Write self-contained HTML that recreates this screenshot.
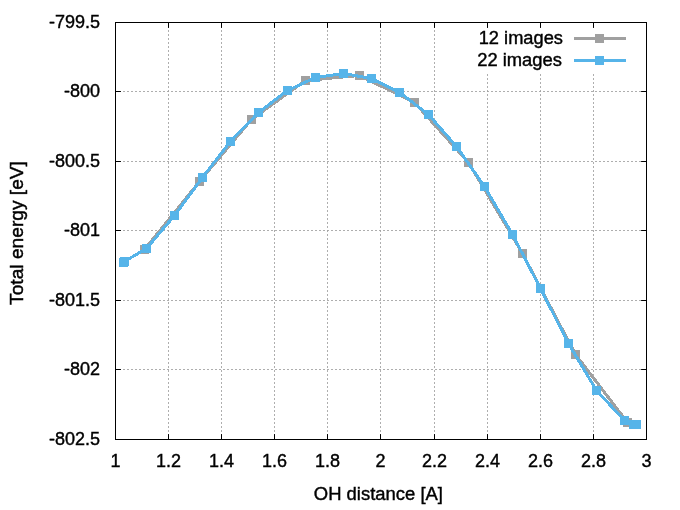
<!DOCTYPE html>
<html><head><meta charset="utf-8"><style>
html,body{margin:0;padding:0;background:#fff;}
svg{display:block;}
text{will-change:transform;}
text{font-family:"Liberation Sans",sans-serif;fill:#000;stroke:#000;stroke-width:0.4px;}
</style></head><body>
<svg width="680" height="510" viewBox="0 0 680 510">
<rect x="0" y="0" width="680" height="510" fill="#fff"/>
<path d="M168.5 440V22 M221.5 440V22 M274.5 440V22 M327.5 440V22 M380.5 440V22 M434.5 440V22 M487.5 440V22 M540.5 440V22 M593.5 440V22 M115 91.5H647 M115 161.5H647 M115 230.5H647 M115 300.5H647 M115 369.5H647" stroke="#a0a0a0" stroke-width="1" stroke-dasharray="2 2" fill="none" opacity="0.85"/>
<rect x="440" y="28" width="205" height="46" fill="#fff"/>
<path d="M168.5 439.5V434.5 M168.5 22.5V27.5 M221.5 439.5V434.5 M221.5 22.5V27.5 M274.5 439.5V434.5 M274.5 22.5V27.5 M327.5 439.5V434.5 M327.5 22.5V27.5 M380.5 439.5V434.5 M380.5 22.5V27.5 M434.5 439.5V434.5 M434.5 22.5V27.5 M487.5 439.5V434.5 M487.5 22.5V27.5 M540.5 439.5V434.5 M540.5 22.5V27.5 M593.5 439.5V434.5 M593.5 22.5V27.5 M115.5 91.5H120.5 M646.5 91.5H641.5 M115.5 161.5H120.5 M646.5 161.5H641.5 M115.5 230.5H120.5 M646.5 230.5H641.5 M115.5 300.5H120.5 M646.5 300.5H641.5 M115.5 369.5H120.5 M646.5 369.5H641.5" stroke="#000" stroke-width="1" stroke-linecap="round" fill="none"/>
<rect x="115.5" y="22.5" width="531" height="417" stroke="#000" stroke-width="1" fill="none"/>
<text x="115.5" y="467" font-size="18" text-anchor="middle">1</text>
<text x="168.5" y="467" font-size="18" text-anchor="middle">1.2</text>
<text x="221.5" y="467" font-size="18" text-anchor="middle">1.4</text>
<text x="274.5" y="467" font-size="18" text-anchor="middle">1.6</text>
<text x="327.5" y="467" font-size="18" text-anchor="middle">1.8</text>
<text x="380.5" y="467" font-size="18" text-anchor="middle">2</text>
<text x="434.5" y="467" font-size="18" text-anchor="middle">2.2</text>
<text x="487.5" y="467" font-size="18" text-anchor="middle">2.4</text>
<text x="540.5" y="467" font-size="18" text-anchor="middle">2.6</text>
<text x="593.5" y="467" font-size="18" text-anchor="middle">2.8</text>
<text x="646.5" y="467" font-size="18" text-anchor="middle">3</text>
<text x="100" y="28" font-size="18" text-anchor="end">-799.5</text>
<text x="100" y="97" font-size="18" text-anchor="end">-800</text>
<text x="100" y="167" font-size="18" text-anchor="end">-800.5</text>
<text x="100" y="236" font-size="18" text-anchor="end">-801</text>
<text x="100" y="306" font-size="18" text-anchor="end">-801.5</text>
<text x="100" y="375" font-size="18" text-anchor="end">-802</text>
<text x="100" y="445" font-size="18" text-anchor="end">-802.5</text>
<text x="378.4" y="500" font-size="18" text-anchor="middle" textLength="129.1" lengthAdjust="spacingAndGlyphs">OH distance [A]</text>
<text transform="translate(23 233) rotate(-90)" font-size="18" text-anchor="middle" textLength="143.9" lengthAdjust="spacingAndGlyphs">Total energy [eV]</text>
<text x="563" y="44" font-size="18" text-anchor="end" textLength="84.3" lengthAdjust="spacingAndGlyphs">12 images</text>
<text x="562" y="66" font-size="18" text-anchor="end" textLength="84.8" lengthAdjust="spacingAndGlyphs">22 images</text>
<path d="M574 38.5H626" stroke="#a0a0a0" stroke-width="3"/><rect x="595" y="34" width="9" height="9" fill="#a0a0a0"/>
<path d="M574 60.5H626" stroke="#56b4e9" stroke-width="3"/><rect x="595" y="56" width="9" height="9" fill="#56b4e9"/>
<path d="M124.5 261.5 L144.5 249.5 L199.5 181.5 L251.5 119.5 L305.5 80.5 L359.5 75.5 L414.5 102.5 L468.5 162.5 L522.5 253.5 L575.5 354.5 L627.5 422.5 L636.5 424.5" stroke="#a0a0a0" stroke-width="3" fill="none" stroke-linejoin="miter" shape-rendering="crispEdges"/>
<rect x="120.0" y="257.0" width="9" height="9" fill="#a0a0a0"/>
<rect x="140.0" y="245.0" width="9" height="9" fill="#a0a0a0"/>
<rect x="195.0" y="177.0" width="9" height="9" fill="#a0a0a0"/>
<rect x="247.0" y="115.0" width="9" height="9" fill="#a0a0a0"/>
<rect x="301.0" y="76.0" width="9" height="9" fill="#a0a0a0"/>
<rect x="355.0" y="71.0" width="9" height="9" fill="#a0a0a0"/>
<rect x="410.0" y="98.0" width="9" height="9" fill="#a0a0a0"/>
<rect x="464.0" y="158.0" width="9" height="9" fill="#a0a0a0"/>
<rect x="518.0" y="249.0" width="9" height="9" fill="#a0a0a0"/>
<rect x="571.0" y="350.0" width="9" height="9" fill="#a0a0a0"/>
<rect x="623.0" y="418.0" width="9" height="9" fill="#a0a0a0"/>
<rect x="632.0" y="420.0" width="9" height="9" fill="#a0a0a0"/>
<path d="M123.5 262.5 L124.5 261.5 L146.5 248.5 L174.5 215.5 L202.5 177.5 L230.5 141.5 L258.5 112.5 L287.5 90.5 L315.5 77.5 L343.5 73.5 L371.5 78.5 L399.5 92.5 L428.5 114.5 L456.5 146.5 L484.5 186.5 L512.5 234.5 L540.5 288.5 L568.5 343.5 L596.5 390.5 L624.5 420.5 L633.5 424.5 L636.5 424.5" stroke="#56b4e9" stroke-width="3" fill="none" stroke-linejoin="miter" shape-rendering="crispEdges"/>
<rect x="119.0" y="258.0" width="9" height="9" fill="#56b4e9"/>
<rect x="120.0" y="257.0" width="9" height="9" fill="#56b4e9"/>
<rect x="142.0" y="244.0" width="9" height="9" fill="#56b4e9"/>
<rect x="170.0" y="211.0" width="9" height="9" fill="#56b4e9"/>
<rect x="198.0" y="173.0" width="9" height="9" fill="#56b4e9"/>
<rect x="226.0" y="137.0" width="9" height="9" fill="#56b4e9"/>
<rect x="254.0" y="108.0" width="9" height="9" fill="#56b4e9"/>
<rect x="283.0" y="86.0" width="9" height="9" fill="#56b4e9"/>
<rect x="311.0" y="73.0" width="9" height="9" fill="#56b4e9"/>
<rect x="339.0" y="69.0" width="9" height="9" fill="#56b4e9"/>
<rect x="367.0" y="74.0" width="9" height="9" fill="#56b4e9"/>
<rect x="395.0" y="88.0" width="9" height="9" fill="#56b4e9"/>
<rect x="424.0" y="110.0" width="9" height="9" fill="#56b4e9"/>
<rect x="452.0" y="142.0" width="9" height="9" fill="#56b4e9"/>
<rect x="480.0" y="182.0" width="9" height="9" fill="#56b4e9"/>
<rect x="508.0" y="230.0" width="9" height="9" fill="#56b4e9"/>
<rect x="536.0" y="284.0" width="9" height="9" fill="#56b4e9"/>
<rect x="564.0" y="339.0" width="9" height="9" fill="#56b4e9"/>
<rect x="592.0" y="386.0" width="9" height="9" fill="#56b4e9"/>
<rect x="620.0" y="416.0" width="9" height="9" fill="#56b4e9"/>
<rect x="629.0" y="420.0" width="9" height="9" fill="#56b4e9"/>
<rect x="632.0" y="420.0" width="9" height="9" fill="#56b4e9"/>
</svg>
</body></html>
